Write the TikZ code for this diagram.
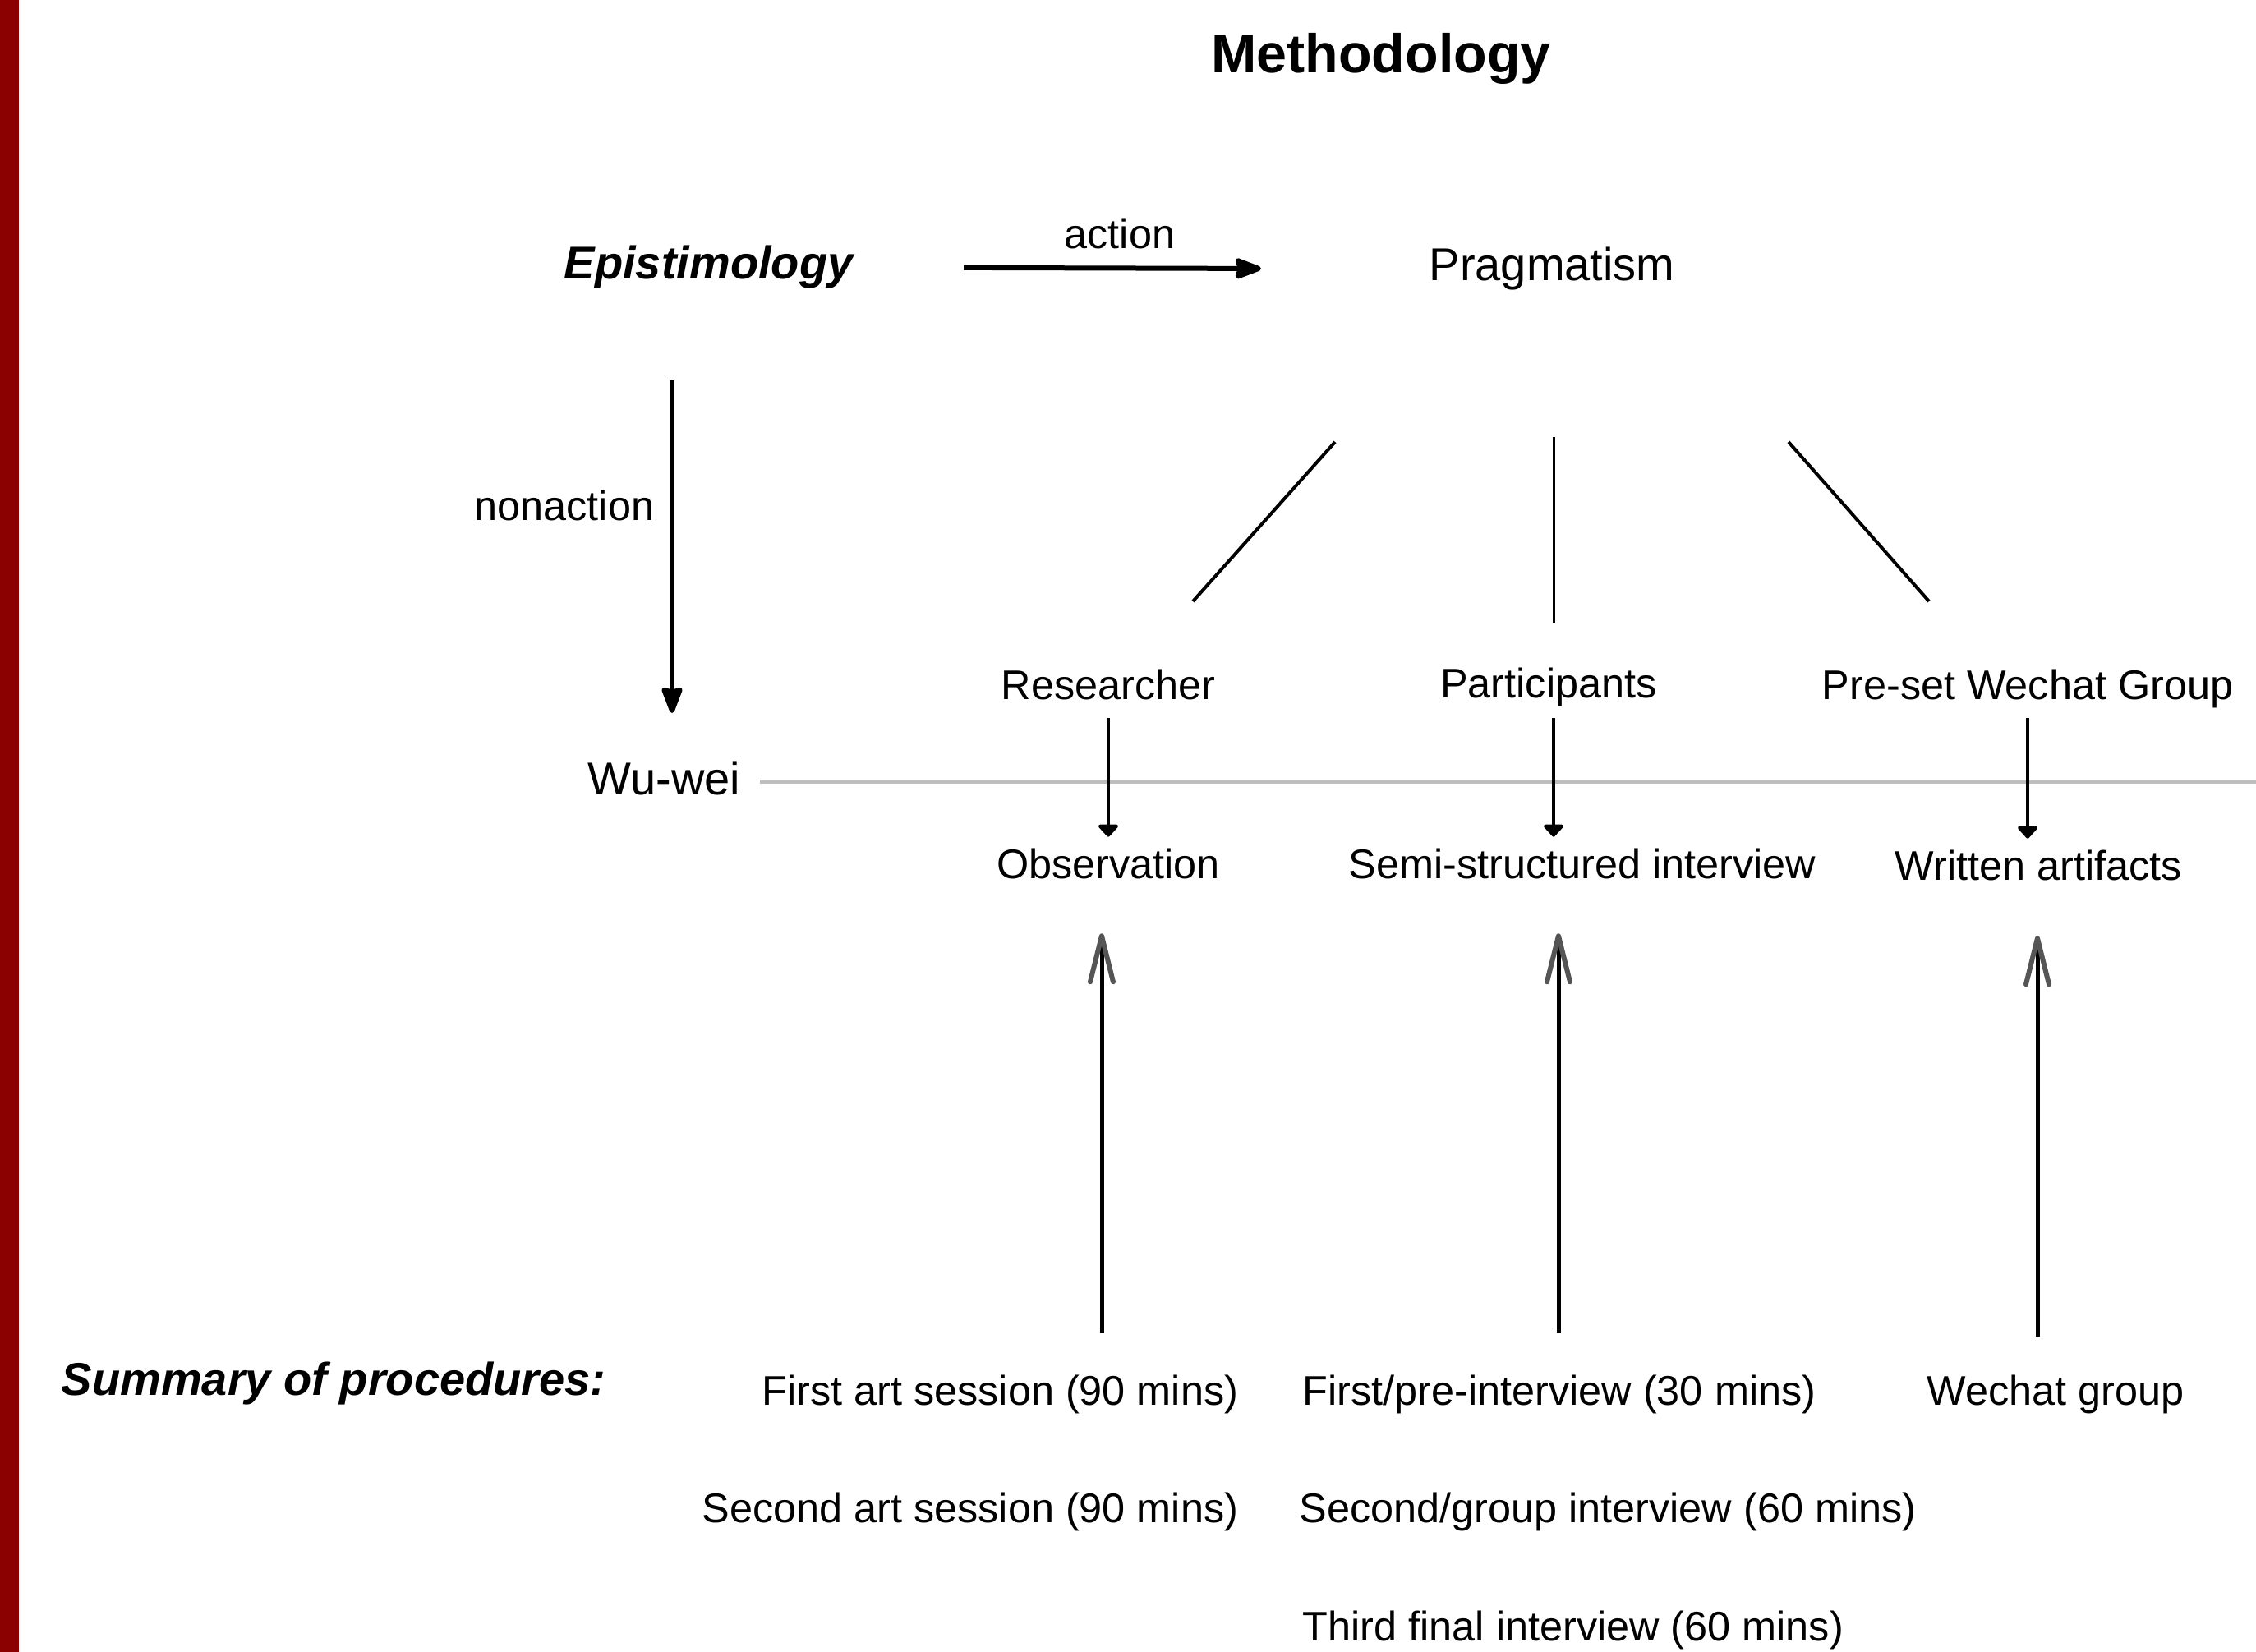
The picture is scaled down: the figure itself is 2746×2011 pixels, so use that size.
\documentclass[tikz,border=0pt]{standalone}
\usepackage{fontspec}
\setmainfont{Liberation Sans}
\usetikzlibrary{arrows.meta}
\definecolor{barred}{RGB}{139,0,0}
\definecolor{linegray}{RGB}{190,190,190}
\definecolor{headgray}{RGB}{85,85,85}
\tikzset{
 txt/.style={inner sep=0pt, font=\fontsize{12.6}{15}\selectfont},
 bigtxt/.style={inner sep=0pt, font=\fontsize{14}{17}\selectfont},
 bitxt/.style={inner sep=0pt, font=\fontsize{14}{17}\selectfont\bfseries\itshape},
 titletxt/.style={inner sep=0pt, font=\fontsize{16.6}{20}\selectfont\bfseries},
 mainarrow/.style={line width=1.5pt, -{Stealth[length=9.5pt,width=7pt,inset=1pt,round]}},
 downarrow/.style={line width=1pt, -{Triangle[length=4pt,width=7pt,round]}},
 uparrow/.style={line width=1.25pt, -{Straight Barb[length=14pt,width=7pt,round,line width=1.5pt,color=headgray]}},
 branch/.style={line width=1pt},
 thinbranch/.style={line width=0.75pt},
 grayline/.style={line width=1.25pt, draw=linegray},
}
\begin{document}
\begin{tikzpicture}[x=0.25pt,y=-0.25pt]
\useasboundingbox (0,0) rectangle (2746,2011);
\fill[barred] (0,0) rectangle (23,2011);

% texts
\node[titletxt, anchor=base] (title) at (1681,89) {Methodology};
\node[bitxt, anchor=base west] (epi) at (686,340) {Epistimology};
\node[txt, anchor=base] (action) at (1363,303) {action};
\node[bigtxt, anchor=base west] (prag) at (1739,342) {Pragmatism};
\node[txt, anchor=base east] (nonaction) at (797,634) {nonaction};
\node[bigtxt, anchor=base east] (wuwei) at (902,968) {Wu-wei};

\node[txt, anchor=base] (res) at (1349,852) {Researcher};
\node[txt, anchor=base] (part) at (1885,850) {Participants};
\node[txt, anchor=base west] (grp) at (2217,852) {Pre-set Wechat Group};

\node[txt, anchor=base] (obs) at (1349,1070) {Observation};
\node[txt, anchor=base west] (semi) at (1641,1070) {Semi-structured interview};
\node[txt, anchor=base west] (wr) at (2306,1072) {Written artifacts};

\node[bitxt, anchor=base west] (summary) at (74,1698) {Summary of procedures:};
\node[txt, anchor=base east] (art1) at (1508,1710) {First art session (90 mins)};
\node[txt, anchor=base east] (art2) at (1508,1853) {Second art session (90 mins)};
\node[txt, anchor=base west] (int1) at (1585,1710) {First/pre-interview (30 mins)};
\node[txt, anchor=base west] (int2) at (1581,1853) {Second/group interview (60 mins)};
\node[txt, anchor=base west] (int3) at (1585,1997) {Third final interview (60 mins)};
\node[txt, anchor=base west] (wg) at (2345,1710) {Wechat group};

% coordinates for free ends
\coordinate (na1) at (818,463);
\coordinate (na2) at (818,868);
\coordinate (b1a) at (1625,538);
\coordinate (b1b) at (1452,732);
\coordinate (b2a) at (1891,532);
\coordinate (b2b) at (1891,758);
\coordinate (b3a) at (2177,538);
\coordinate (b3b) at (2348,732);
\coordinate (gl1) at (925,952);
\coordinate (gl2) at (2746,952);
\coordinate (u1a) at (1341,1623);
\coordinate (u2a) at (1897,1623);
\coordinate (u3a) at (2480,1627);

% connectors
\draw[mainarrow, shorten <=33.5pt, shorten >=51pt] (epi.east) -- (prag.west);
\draw[mainarrow] (na1) -- (na2);
\draw[branch] (b1a) -- (b1b);
\draw[thinbranch] (b2a) -- (b2b);
\draw[branch] (b3a) -- (b3b);
\draw[grayline] (gl1) -- (gl2);
\draw[downarrow, shorten <=5.25pt, shorten >=3.5pt] (res.south) -- (res.south |- obs.north);
\draw[downarrow, shorten <=3.25pt, shorten >=3.5pt] ([xshift=1.5pt]part.south) -- ([xshift=1.5pt]part.south |- semi.north);
\draw[downarrow, shorten <=2.75pt, shorten >=3.5pt] (grp.south) -- (grp.south |- wr.north);
\draw[uparrow, shorten >=16.25pt] (u1a) -- (u1a |- obs.south);
\draw[uparrow, shorten >=16.25pt] (u2a) -- (u2a |- semi.south);
\draw[uparrow, shorten >=16.5pt] (u3a) -- (u3a |- wr.south);
\end{tikzpicture}
\end{document}
